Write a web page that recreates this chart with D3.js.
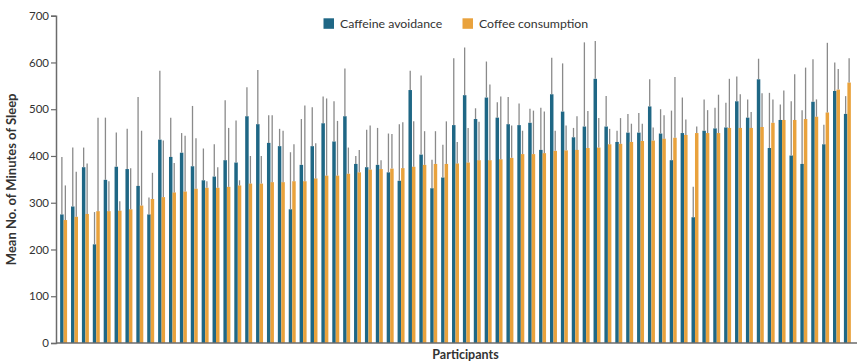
<!DOCTYPE html>
<html>
<head>
<meta charset="utf-8">
<script src="https://cdn.jsdelivr.net/npm/d3@7"></script>
<style>
  html, body { margin: 0; padding: 0; background: #fff; }
  svg { display: block; }
  text { font-family: Lato, "Open Sans", sans-serif; fill: #333; }
</style>
</head>
<body>
<svg id="chart" width="864" height="363"></svg>
<script>
// ---- Data ----
const seriesNames = ["Caffeine avoidance", "Coffee consumption"];
const avoidance = [275,292,376,211,349,377,372,336,275,435,398,407,378,348,356,391,386,485,468,428,421,286,381,421,470,431,485,383,376,381,365,347,541,403,331,354,466,530,479,525,482,468,466,471,413,532,495,440,463,565,463,430,450,450,506,448,391,449,269,454,459,461,517,482,564,417,477,401,383,516,425,539,490];
const avoidanceUpper = [398,418,418,280,482,450,458,526,311,582,482,449,507,416,425,519,476,547,584,487,458,408,479,504,527,517,587,400,456,460,448,468,582,572,392,424,609,632,502,602,515,526,512,501,503,610,598,460,643,646,528,454,490,492,564,500,497,525,334,521,503,514,570,521,608,535,510,517,498,607,467,600,528];
const coffee = [263,270,276,282,282,283,286,294,308,312,322,324,330,332,332,334,337,341,341,344,344,346,346,352,358,358,362,365,371,372,373,374,377,381,383,383,384,386,391,391,393,396,404,404,406,411,412,413,417,418,425,426,430,432,433,437,439,445,449,449,449,460,460,460,462,471,477,477,479,484,493,542,557];
const coffeeUpper = [337,366,384,482,346,303,374,454,364,433,385,443,438,346,376,460,348,400,400,487,454,425,508,427,523,475,418,413,465,391,447,472,474,453,453,474,430,460,473,553,527,465,454,497,495,454,465,485,496,481,458,481,469,469,461,487,569,478,463,498,531,565,532,494,534,521,540,575,589,521,642,586,609];
const yTicks = [0,100,200,300,400,500,600,700];
const participants = avoidance.map((_, i) => i + 1);

const colors = { "Caffeine avoidance": "#1f6785", "Coffee consumption": "#e9a23c" };

const rows = participants.map((p, i) => ({
  p,
  vals: [
    { key: seriesNames[0], v: avoidance[i], up: avoidanceUpper[i] },
    { key: seriesNames[1], v: coffee[i], up: coffeeUpper[i] }
  ]
}));

// ---- Layout ----
const svg = d3.select("#chart");
const mLeft = 56, mRight = 855, mTop = 15.7, mBottom = 343;

const y = d3.scaleLinear().domain([0, 700]).range([mBottom, mTop]);
const x0 = d3.scaleBand().domain(participants).range([mLeft, mRight])
  .paddingInner(0.36).paddingOuter(0.38);
const x1 = d3.scaleBand().domain(seriesNames).range([0, x0.bandwidth()]).padding(0);

// Bars
const g = svg.append("g");
const groups = g.selectAll("g.pair").data(rows).join("g")
  .attr("class", "pair")
  .attr("transform", d => `translate(${x0(d.p)},0)`);

groups.selectAll("rect").data(d => d.vals).join("rect")
  .attr("x", d => x1(d.key))
  .attr("width", x1.bandwidth())
  .attr("y", d => y(d.v))
  .attr("height", d => y(0) - y(d.v))
  .attr("fill", d => colors[d.key]);

// Error bars (upper)
groups.selectAll("line.err").data(d => d.vals).join("line")
  .attr("class", "err")
  .attr("x1", d => x1(d.key) + x1.bandwidth() / 2)
  .attr("x2", d => x1(d.key) + x1.bandwidth() / 2)
  .attr("y1", d => y(d.v))
  .attr("y2", d => y(d.up))
  .attr("stroke", "#8a8a8a")
  .attr("stroke-width", 1.3);

// Y axis
const yAxis = svg.append("g")
  .attr("transform", `translate(${mLeft},0)`)
  .call(d3.axisLeft(y).tickValues(yTicks).tickSize(5).tickPadding(2));
yAxis.select(".domain").attr("stroke", "#6b6b6b").attr("stroke-width", 1.5);
yAxis.selectAll(".tick line").attr("stroke", "#6b6b6b").attr("stroke-width", 1.2);
yAxis.selectAll(".tick text")
  .style("font-family", "Lato, 'Open Sans', sans-serif")
  .style("font-size", "11.5px").attr("fill", "#333");

// X axis baseline
const xAxis = svg.append("g")
  .attr("transform", `translate(0,${mBottom})`)
  .call(d3.axisBottom(x0).tickValues([]).tickSizeOuter(0));
xAxis.select(".domain").attr("stroke", "#6b6b6b").attr("stroke-width", 1.5)
  .attr("d", `M${mLeft},0H857`);

// Axis titles
svg.append("text")
  .attr("transform", `translate(16,${(mTop + mBottom) / 2}) rotate(-90)`)
  .attr("text-anchor", "middle")
  .style("font-size", "13px").style("font-weight", "bold")
  .text("Mean No. of Minutes of Sleep");

svg.append("text")
  .attr("x", 465.5).attr("y", 359)
  .attr("text-anchor", "middle")
  .style("font-size", "12.5px").style("font-weight", "bold")
  .text("Participants");

// Legend
const legendX = [323.5, 462.5];
const legend = svg.append("g");
seriesNames.forEach((name, i) => {
  legend.append("rect")
    .attr("x", legendX[i]).attr("y", 18.3)
    .attr("width", 10.5).attr("height", 10.5)
    .attr("fill", colors[name]);
  legend.append("text")
    .attr("x", legendX[i] + 16.5).attr("y", 27.8)
    .style("font-size", "12.3px")
    .text(name);
});
</script>
</body>
</html>
